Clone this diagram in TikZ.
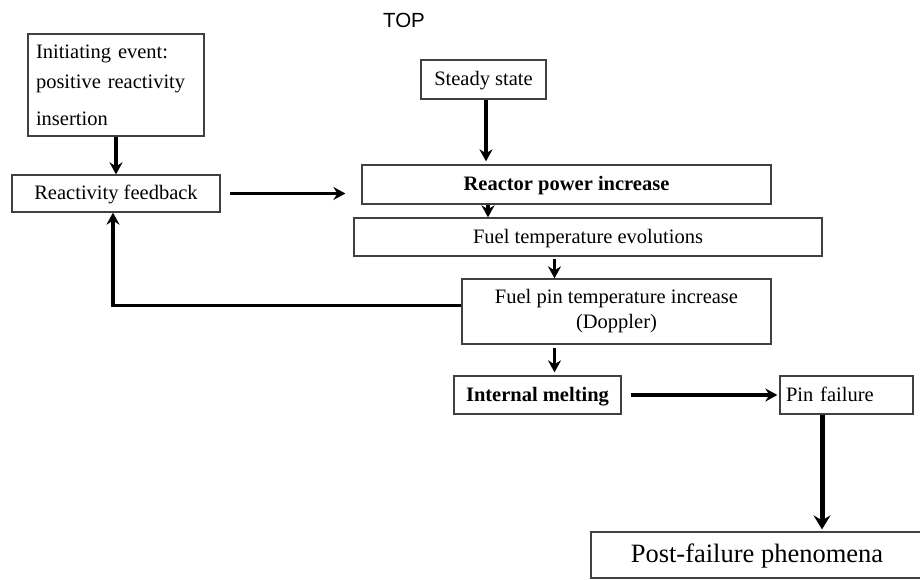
\documentclass[tikz,border=0pt]{standalone}
\usepackage{fontspec}
\setmainfont{Liberation Serif}
\setsansfont{Liberation Sans}
\usetikzlibrary{arrows.meta}
\begin{document}
\begin{tikzpicture}[x=1pt,y=-1pt,
  box/.style={draw=black!75, line width=1.3pt, inner sep=0pt, font=\fontsize{20.5}{24}\selectfont},
  arr/.style={line width=3.4pt, -{Stealth[length=12pt,width=13pt,inset=4pt]}},
  bigarr/.style={line width=5pt, -{Stealth[length=14pt,width=17pt,inset=5pt]}}]
\useasboundingbox (0,0) rectangle (920,580);
\clip (0,0) rectangle (920,580);
\node[font=\sffamily\fontsize{20.5}{24}\selectfont] (top) at (404,20) {TOP};
\node[box, minimum width=176pt, minimum height=102pt, align=left, text width=160pt,
  font=\fontsize{20.5}{30}\selectfont] (init) at (116,85)
  {Initiating event:\\positive reactivity\\[7pt]insertion};
\node[box, minimum width=208pt, minimum height=37pt, text depth=2pt] (rf) at (116,193.5) {Reactivity feedback};
\node[box, minimum width=125pt, minimum height=39pt, text depth=2pt] (ss) at (483.5,79.5) {Steady state};
\node[box, minimum width=409pt, minimum height=39pt, text depth=2pt, font=\bfseries\fontsize{20.5}{24}\selectfont] (rp) at (566.5,184.5) {Reactor power increase};
\node[box, minimum width=468pt, minimum height=38pt, text depth=2pt] (fte) at (588,237) {Fuel temperature evolutions};
\node[box, minimum width=309pt, minimum height=65pt, align=center, font=\fontsize{20.5}{25}\selectfont] (pin) at (616.5,311.5) {Fuel pin temperature increase\\(Doppler)};
\node[box, minimum width=167pt, minimum height=38pt, text depth=2pt, font=\bfseries\fontsize{20.5}{24}\selectfont] (im) at (537.5,395) {Internal melting};
\node[box, minimum width=133pt, minimum height=38pt, text depth=2pt, text width=121pt, align=left] (pf) at (846.5,395) {Pin failure};
\node[box, minimum width=340pt, minimum height=46pt, text depth=3pt, font=\fontsize{26.5}{30}\selectfont] (post) at (761,555) {\hspace*{-8pt}Post-failure phenomena};

\draw[arr] (init.south) -- (rf.north);
\draw[arr, shorten <=9pt, shorten >=16pt] (rf.east) -- (rf.east -| rp.west);
\draw[arr, shorten >=3pt] ([xshift=2.5pt]ss.south) -- ([xshift=2.5pt]ss.south |- rp.north);
\draw[arr] ([xshift=4.5pt]ss.south |- rp.south) -- ([xshift=4.5pt]ss.south |- fte.north);
\draw[arr, shorten <=2pt] ([xshift=-62pt]pin.north |- fte.south) -- ([xshift=-62pt]pin.north);
\draw[arr, shorten <=3pt, shorten >=3pt] ([xshift=-62pt]pin.south) -- ([xshift=-62pt]pin.south |- im.north);
\draw[arr] ([yshift=6pt]pin.west) -| ([xshift=-3pt]rf.south);
\draw[arr, shorten <=9pt, shorten >=2pt] (im.east) -- (pf.west);
\draw[bigarr, shorten >=2pt] ([xshift=-24.5pt]pf.south) -- ([xshift=-24.5pt]pf.south |- post.north);
\end{tikzpicture}
\end{document}
